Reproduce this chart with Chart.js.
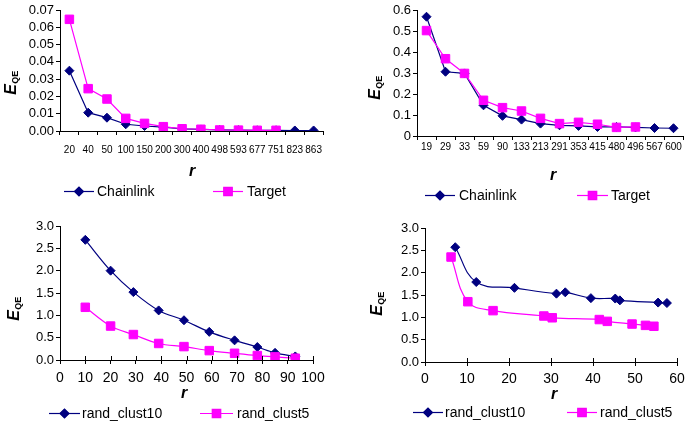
<!DOCTYPE html>
<html><head><meta charset="utf-8">
<script src="https://cdn.jsdelivr.net/npm/chart.js@4.4.0/dist/chart.umd.min.js"></script>
<style>
html,body{margin:0;padding:0;background:#fff;}
#wrap{position:relative;width:690px;height:422px;}
canvas{position:absolute;}
</style></head><body>
<div id="wrap">
<canvas id="c1" width="345" height="211" style="left:0;top:0"></canvas>
<canvas id="c2" width="345" height="211" style="left:345px;top:0"></canvas>
<canvas id="c3" width="345" height="211" style="left:0;top:211px"></canvas>
<canvas id="c4" width="345" height="211" style="left:345px;top:211px"></canvas>
</div>
<script>
// ---- data ----
const c1Labels = ['20','40','50','100','150','200','300','400','498','593','677','751','823','863'];
const c1Chainlink = [0.0349,0.0106,0.0077,0.0039,0.0029,0.0022,0.0012,0.0009,0.0006,0.0005,0.0004,0.0004,0.0003,0.0003];
const c1Target = [0.0646,0.0245,0.0185,0.0073,0.0044,0.0025,0.0013,0.0010,0.0006,0.0005,0.0004,0.0004,null,null];

const c2Labels = ['19','29','33','59','90','133','213','291','353','415','480','496','567','600'];
const c2Chainlink = [0.568,0.306,0.298,0.146,0.096,0.078,0.059,0.051,0.048,0.043,0.043,0.041,0.038,0.037];
const c2Target = [0.502,0.368,0.298,0.170,0.135,0.119,0.084,0.059,0.065,0.056,0.041,0.043,null,null];

const c3X = [10,20,29,39,49,59,69,78,85,93];
const c3Clust10 = [2.69,2.00,1.52,1.11,0.89,0.63,0.44,0.29,0.16,0.08];
const c3Clust5 = [1.18,0.76,0.57,0.37,0.30,0.21,0.15,0.10,0.07,0.04];

const c4X10 = [7.2,12.2,21.3,31.3,33.4,39.5,45.3,46.4,55.5,57.6];
const c4Clust10 = [2.57,1.79,1.66,1.53,1.56,1.43,1.42,1.38,1.33,1.32];
const c4X5 = [6.2,10.2,16.2,28.3,30.3,41.5,43.4,49.3,52.5,54.5];
const c4Clust5 = [2.35,1.35,1.15,1.03,0.99,0.95,0.91,0.85,0.82,0.80];

// ---- styling ----
const NAVY = '#000080', MAG = '#FF00FF';
const FONT = '"Liberation Sans", Arial, sans-serif';
Chart.defaults.font.family = FONT;
Chart.defaults.color = '#000';

const W = 345, H = 211;

const decor = {
  id: 'decor',
  afterDraw(chart, args, o) {
    const ctx = chart.ctx;
    ctx.save();
    if (o.innerTicks) {
      const xs = chart.scales.x, yb = chart.chartArea.bottom;
      ctx.strokeStyle = '#000'; ctx.lineWidth = 1;
      xs.ticks.forEach(t => {
        const px = Math.round(xs.getPixelForValue(t.value)) + 0.5;
        ctx.beginPath(); ctx.moveTo(px, yb); ctx.lineTo(px, yb - 4); ctx.stroke();
      });
    }
    const yt = o.yTitle;
    ctx.translate(yt.x, yt.y);
    ctx.rotate(-Math.PI / 2);
    ctx.fillStyle = '#000';
    ctx.textBaseline = 'alphabetic';
    ctx.font = 'italic bold 16px ' + FONT;
    const wE = ctx.measureText('E').width;
    ctx.font = 'bold 9px ' + FONT;
    const wS = ctx.measureText('QE').width;
    const start = -(wE + wS) / 2;
    ctx.font = 'italic bold 16px ' + FONT;
    ctx.textAlign = 'left';
    ctx.fillText('E', start, -2);
    ctx.font = 'bold 9px ' + FONT;
    ctx.fillText('QE', start + wE + 0.5, 0);
    ctx.setTransform(1, 0, 0, 1, 0, 0);
    ctx.font = 'italic bold 16px ' + FONT;
    ctx.textAlign = 'center';
    ctx.fillText('r', o.xTitle.x, o.xTitle.y);
    o.legend.forEach(it => {
      ctx.strokeStyle = it.color; ctx.lineWidth = 1.2;
      ctx.beginPath(); ctx.moveTo(it.x1, it.y + 0.5); ctx.lineTo(it.x2, it.y + 0.5); ctx.stroke();
      Chart.helpers.drawPoint(ctx, {pointStyle: it.style, radius: it.r, borderWidth: 1}, (it.x1 + it.x2) / 2, it.y + 0.5);
      ctx.fillStyle = it.color;
      ctx.fill();
      ctx.fillStyle = '#000';
      ctx.font = '14px ' + FONT;
      ctx.textAlign = 'left';
      ctx.textBaseline = 'middle';
      ctx.fillText(it.text, it.tx, it.y + 1);
    });
    ctx.restore();
  }
};

function ds(label, data, color, style, r, order, tension) {
  return {
    label, data, borderColor: color, backgroundColor: color,
    pointStyle: style, pointRadius: r, pointHoverRadius: r, pointBorderWidth: 1,
    pointBackgroundColor: color, pointBorderColor: color,
    borderWidth: 1.2, tension: tension, order: order, spanGaps: false, fill: false
  };
}

function axisCommon(extra) {
  return Object.assign({
    grid: {display: true, drawOnChartArea: false, drawTicks: true, tickLength: 4, color: '#000', tickColor: '#000'},
    border: {display: true, color: '#000', width: 1}
  }, extra);
}

function make(id, area, xScale, yScale, datasets, labels, dec) {
  const cfg = {
    type: 'line',
    data: labels ? {labels, datasets} : {datasets},
    options: {
      responsive: false, animation: false, devicePixelRatio: 1,
      events: [],
      layout: {padding: {left: 0, top: area.top, right: W - area.right, bottom: 0}},
      plugins: {legend: {display: false}, tooltip: {enabled: false}, decor: dec},
      scales: {
        x: Object.assign(xScale, {afterFit: s => { s.height = H - area.bottom; }}),
        y: Object.assign(yScale, {afterFit: s => { s.width = area.left; }})
      }
    },
    plugins: [decor]
  };
  return new Chart(document.getElementById(id), cfg);
}

const catGrid = {display: true, drawOnChartArea: false, offset: true, tickLength: 4, color: '#000', tickColor: '#000'};

// Chart 1
make('c1', {left: 60, right: 323, top: 10, bottom: 131},
  axisCommon({type: 'category', offset: true, grid: catGrid,
    ticks: {font: {size: 10}, padding: 9, maxRotation: 0, autoSkip: false}}),
  axisCommon({min: 0, max: 0.07, ticks: {stepSize: 0.01, autoSkip: false, font: {size: 13}, padding: 2, callback: v => v.toFixed(2)}}),
  [ds('Chainlink', c1Chainlink, NAVY, 'rectRot', 4.5, 1, 0), ds('Target', c1Target, MAG, 'rect', 6, 0, 0)],
  c1Labels,
  {yTitle: {x: 18, y: 83}, xTitle: {x: 192, y: 176},
   legend: [{x1: 64, x2: 94, tx: 97, y: 191, color: NAVY, style: 'rectRot', r: 4.5, text: 'Chainlink'},
            {x1: 213, x2: 243, tx: 247, y: 191, color: MAG, style: 'rect', r: 6, text: 'Target'}]});

// Chart 2
make('c2', {left: 72, right: 343, top: 10, bottom: 136},
  axisCommon({type: 'category', offset: true, grid: catGrid,
    ticks: {font: {size: 10}, padding: 1, maxRotation: 0, autoSkip: false}}),
  axisCommon({min: 0, max: 0.6, ticks: {stepSize: 0.1, autoSkip: false, font: {size: 13}, padding: 2, callback: v => v === 0 ? '0' : v.toFixed(1)}}),
  [ds('Chainlink', c2Chainlink, NAVY, 'rectRot', 4.5, 1, 0), ds('Target', c2Target, MAG, 'rect', 6, 0, 0)],
  c2Labels,
  {yTitle: {x: 37, y: 88}, xTitle: {x: 208, y: 180},
   legend: [{x1: 80, x2: 110, tx: 114, y: 195, color: NAVY, style: 'rectRot', r: 4.5, text: 'Chainlink'},
            {x1: 232, x2: 263, tx: 266, y: 195, color: MAG, style: 'rect', r: 6, text: 'Target'}]});

// Chart 3
make('c3', {left: 60, right: 313, top: 15, bottom: 149},
  axisCommon({type: 'linear', min: 0, max: 100, ticks: {stepSize: 10, autoSkip: false, maxRotation: 0, font: {size: 14}, padding: 6}}),
  axisCommon({min: 0, max: 3, ticks: {stepSize: 0.5, autoSkip: false, font: {size: 13}, padding: 2, callback: v => v.toFixed(1)}}),
  [ds('rand_clust10', c3X.map((x, i) => ({x, y: c3Clust10[i]})), NAVY, 'rectRot', 4.5, 1, 0.35),
   ds('rand_clust5', c3X.map((x, i) => ({x, y: c3Clust5[i]})), MAG, 'rect', 6, 0, 0.35)],
  null,
  {innerTicks: true, yTitle: {x: 21, y: 98}, xTitle: {x: 184, y: 187},
   legend: [{x1: 49, x2: 80, tx: 82, y: 202, color: NAVY, style: 'rectRot', r: 4.5, text: 'rand_clust10'},
            {x1: 200, x2: 233, tx: 237, y: 202, color: MAG, style: 'rect', r: 6, text: 'rand_clust5'}]});

// Chart 4
make('c4', {left: 80, right: 332, top: 17, bottom: 151},
  axisCommon({type: 'linear', min: 0, max: 60, ticks: {stepSize: 10, autoSkip: false, maxRotation: 0, font: {size: 14}, padding: 5}}),
  axisCommon({min: 0, max: 3, ticks: {stepSize: 0.5, autoSkip: false, font: {size: 13}, padding: 2, callback: v => v.toFixed(1)}}),
  [ds('rand_clust10', c4X10.map((x, i) => ({x, y: c4Clust10[i]})), NAVY, 'rectRot', 4.5, 1, 0.4),
   ds('rand_clust5', c4X5.map((x, i) => ({x, y: c4Clust5[i]})), MAG, 'rect', 6, 0, 0.4)],
  null,
  {innerTicks: true, yTitle: {x: 39, y: 93}, xTitle: {x: 209, y: 188},
   legend: [{x1: 68, x2: 98, tx: 100, y: 201, color: NAVY, style: 'rectRot', r: 4.5, text: 'rand_clust10'},
            {x1: 222, x2: 252, tx: 255, y: 201, color: MAG, style: 'rect', r: 6, text: 'rand_clust5'}]});
</script>
</body></html>
